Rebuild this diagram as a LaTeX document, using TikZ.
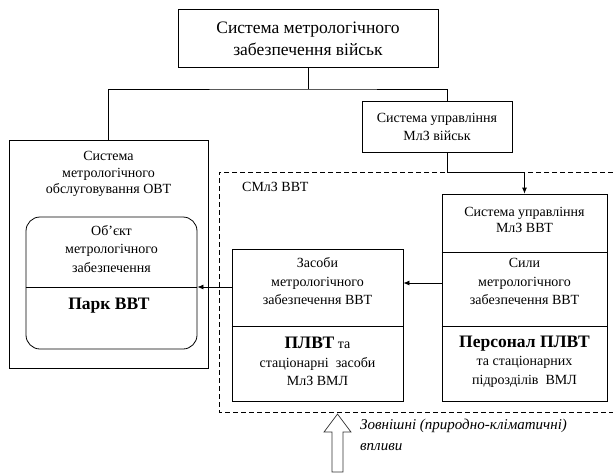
\documentclass[tikz,border=0pt]{standalone}
\usepackage{fontspec}
\setmainfont{Liberation Serif}
\newfontfamily\diagfont{Liberation Serif}
\usetikzlibrary{arrows.meta}
\begin{document}
\begin{tikzpicture}[x=1pt,y=-1pt,
  frame/.style={draw, line width=0.8pt, inner sep=0pt},
  txt/.style={align=center, inner sep=0pt, font=\diagfont\fontsize{14}{18.5}\selectfont},
  bigtxt/.style={align=center, inner sep=0pt, font=\diagfont\fontsize{17.5}{22}\selectfont},
  link/.style={line width=0.8pt},
  arr/.style={line width=0.8pt, -{Latex[length=6pt,width=5pt]}}]
\useasboundingbox (0,0) rectangle (613,475);

% top-level system
\node[frame, minimum width=260pt, minimum height=58pt] (top) at (308,38) {};
\node[bigtxt] (toptxt) at (308,39) {Система метрологічного\\забезпечення військ};

% control system of the troops
\node[frame, minimum width=150pt, minimum height=51pt] (mgmt) at (437,126.5) {};
\node[txt] (mgmttxt) at (437,127) {Система управління\\МлЗ військ};

% maintenance system with the rounded object box
\node[frame, minimum width=199pt, minimum height=228pt] (ovt) at (108.5,254) {};
\node[txt, font=\diagfont\fontsize{14}{16.5}\selectfont] (ovttxt) at (108.5,174) {Система\\метрологічного\\обслуговування ОВТ};
\node[frame, rounded corners=14pt, minimum width=171pt, minimum height=132pt] (obj) at (111.5,283) {};
\draw[link] (obj.west |- 0,287) -- (obj.east |- 0,287);
\node[txt] (objtxt) at (111.5,249) {Об’єкт\\метрологічного\\забезпечення};
\node[bigtxt, font=\diagfont\fontsize{17.5}{22}\selectfont\bfseries] (park) at (109,306) {Парк ВВТ};

% dashed area of the weapons metrology system
\draw[line width=0.8pt, dashed, dash pattern=on 5pt off 3pt] (613,172) -- (219,172) -- (219,412) -- (613,412);
\node[txt, anchor=west] (smlz) at (242,187) {СМлЗ ВВТ};

% means of metrology support
\node[frame, minimum width=171pt, minimum height=152pt] (zasoby) at (317.5,325) {};
\draw[link] (zasoby.west |- 0,326) -- (zasoby.east |- 0,326);
\node[txt] (zastxt) at (317.5,281.5) {Засоби\\метрологічного\\забезпечення ВВТ};
\node[txt] (plvt) at (317.5,361.5) {{\fontsize{17.5}{18}\selectfont\bfseries ПЛВТ} та\\стаціонарні\ \ засоби\\МлЗ ВМЛ};

% forces of metrology support
\node[frame, minimum width=165pt, minimum height=207pt] (syly) at (524.5,297.5) {};
\draw[link] (syly.west |- 0,252) -- (syly.east |- 0,252);
\draw[link] (syly.west |- 0,326) -- (syly.east |- 0,326);
\node[txt, font=\diagfont\fontsize{14}{16}\selectfont] (sutxt) at (524.5,220) {Система управління\\МлЗ ВВТ};
\node[txt] (sylytxt) at (524.5,281.5) {Сили\\метрологічного\\забезпечення ВВТ};
\node[txt] (pers) at (524.5,361.5) {{\fontsize{17.5}{18}\selectfont\bfseries Персонал ПЛВТ}\\та стаціонарних\\підрозділів\ \ ВМЛ};

% tree connectors
\coordinate (split) at (308,89);
\coordinate (bend) at (447,172);
\draw[link] (top.south) -- (split);
\draw[link] (ovt.north) |- (split) -| ([xshift=10pt]mgmt.north);
\draw[arr] ([xshift=10pt]mgmt.south) -- (bend) -| (syly.north);
\draw[arr] (syly.west |- 0,283) -- (zasoby.east |- 0,283);
\draw[arr] (zasoby.west |- 0,287) -- (obj.east |- 0,287);

% external influences
\draw[line width=0.7pt, draw=black!80] (332,472) -- (332,432) -- (324,432) -- (337.5,414) -- (351,432) -- (343,432) -- (343,472) -- cycle;
\node[align=left, anchor=west, inner sep=0pt, font=\diagfont\fontsize{15}{21}\selectfont\itshape] (ext) at (360,435) {Зовнішні (природно-кліматичні)\\впливи};
\end{tikzpicture}
\end{document}
